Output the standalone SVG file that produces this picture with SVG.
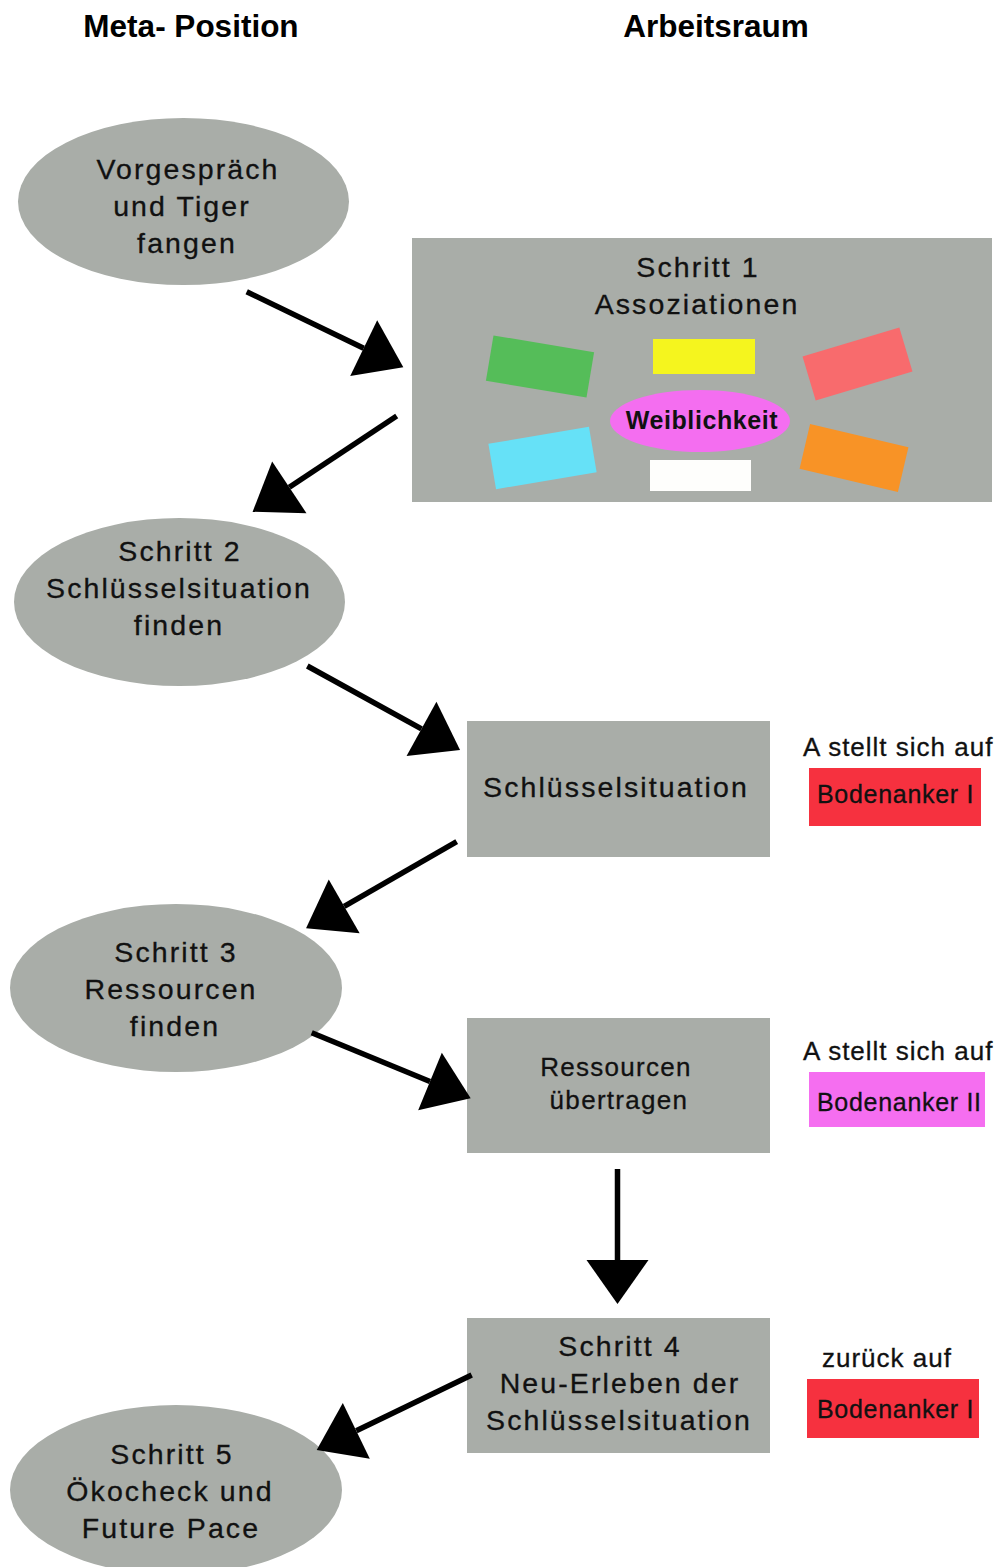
<svg xmlns="http://www.w3.org/2000/svg" width="1002" height="1567" viewBox="0 0 1002 1567">
<style>
.bg{fill:#ffffff}
.node{fill:#a9ada8}
.t{font-family:"Liberation Sans",Arial,sans-serif;font-size:28.5px;letter-spacing:2.1px;fill:#111;stroke:#111;stroke-width:0.3;text-anchor:middle}
.h{font-family:"Liberation Sans",Arial,sans-serif;font-size:31.5px;font-weight:bold;fill:#000;text-anchor:middle}
.s{font-family:"Liberation Sans",Arial,sans-serif;font-size:26px;letter-spacing:1px;fill:#111;stroke:#111;stroke-width:0.3}
.b{font-family:"Liberation Sans",Arial,sans-serif;font-size:25px;letter-spacing:0.7px;fill:#111;stroke:#111;stroke-width:0.3}
.r{font-family:"Liberation Sans",Arial,sans-serif;font-size:26px;letter-spacing:1.3px;fill:#111;stroke:#111;stroke-width:0.3;text-anchor:middle}
.w{font-family:"Liberation Sans",Arial,sans-serif;font-size:25px;font-weight:bold;letter-spacing:0.6px;fill:#111;text-anchor:middle}
.c{stroke:#000;stroke-width:5.5;fill:none}
</style>
<defs>
<marker id="ah" markerUnits="userSpaceOnUse" markerWidth="50" markerHeight="70" refX="0" refY="31" orient="auto" viewBox="0 0 50 62" overflow="visible">
<path d="M0,0 L44,31 L0,62 Z" fill="#000"/>
</marker>
</defs>
<rect class="bg" x="0" y="0" width="1002" height="1567"/>

<g id="headers">
<text class="h" x="191" y="37">Meta- Position</text>
<text class="h" x="716" y="37">Arbeitsraum</text>
</g>

<g id="vorgespraech">
<ellipse class="node" cx="183.5" cy="201.5" rx="165.5" ry="83.5"/>
<text class="t" x="188" y="179">Vorgespräch</text>
<text class="t" x="182" y="216">und Tiger</text>
<text class="t" x="187" y="253">fangen</text>
</g>

<g id="schritt1">
<rect class="node" x="412" y="238" width="580" height="264"/>
<text class="t" x="698" y="277">Schritt 1</text>
<text class="t" x="697" y="314">Assoziationen</text>
<rect x="489" y="343.5" width="102" height="46" fill="#55bd59" transform="rotate(9.5 540 366.5)"/>
<rect x="653" y="339" width="102" height="35" fill="#f5f51e"/>
<rect x="807" y="341" width="101" height="46" fill="#f86b6d" transform="rotate(-16.6 857.5 364)"/>
<rect x="491.5" y="435" width="102" height="46" fill="#66e1f7" transform="rotate(-9.6 542.5 458)"/>
<rect x="803.5" y="435" width="101" height="46" fill="#f89326" transform="rotate(13.2 854 458)"/>
<rect x="650" y="460" width="101" height="31" fill="#fefefc"/>
<ellipse cx="700" cy="421" rx="90" ry="31" fill="#f46ef0"/>
<text class="w" x="702" y="429">Weiblichkeit</text>
</g>

<g id="schritt2">
<ellipse class="node" cx="179.5" cy="602" rx="165.5" ry="84"/>
<text class="t" x="180" y="561">Schritt 2</text>
<text class="t" x="179" y="598">Schlüsselsituation</text>
<text class="t" x="179" y="635">finden</text>
</g>

<g id="schluesselsituation">
<rect class="node" x="467" y="721" width="303" height="136"/>
<text class="t" x="616" y="797">Schlüsselsituation</text>
</g>

<g id="anker1">
<text class="s" x="803" y="756">A stellt sich auf</text>
<rect x="809" y="768" width="172" height="58" fill="#f6313f"/>
<text class="b" x="817" y="803">Bodenanker I</text>
</g>

<g id="schritt3">
<ellipse class="node" cx="176" cy="988" rx="166" ry="84"/>
<text class="t" x="176" y="962">Schritt 3</text>
<text class="t" x="171" y="999">Ressourcen</text>
<text class="t" x="175" y="1036">finden</text>
</g>

<g id="ressourcen">
<rect class="node" x="467" y="1018" width="303" height="135"/>
<text class="r" x="616" y="1076">Ressourcen</text>
<text class="r" x="619" y="1109">übertragen</text>
</g>

<g id="anker2">
<text class="s" x="803" y="1060">A stellt sich auf</text>
<rect x="809" y="1072" width="176" height="55" fill="#f56ef0"/>
<text class="b" x="817" y="1111">Bodenanker II</text>
</g>

<g id="schritt4">
<rect class="node" x="467" y="1318" width="303" height="135"/>
<text class="t" x="620" y="1356">Schritt 4</text>
<text class="t" x="620" y="1393">Neu-Erleben der</text>
<text class="t" x="619" y="1430">Schlüsselsituation</text>
</g>

<g id="anker3">
<text class="s" x="822" y="1367">zurück auf</text>
<rect x="807" y="1379" width="172" height="59" fill="#f6313f"/>
<text class="b" x="817" y="1418">Bodenanker I</text>
</g>

<g id="schritt5">
<ellipse class="node" cx="176" cy="1490" rx="166" ry="85"/>
<text class="t" x="172" y="1464">Schritt 5</text>
<text class="t" x="170" y="1501">Ökocheck und</text>
<text class="t" x="171" y="1538">Future Pace</text>
</g>

<g id="connectors">
<line class="c" x1="246.7" y1="291.7" x2="363.7" y2="348.2" marker-end="url(#ah)"/>
<line class="c" x1="396.7" y1="416" x2="289.3" y2="487.3" marker-end="url(#ah)"/>
<line class="c" x1="307.3" y1="666" x2="421.5" y2="728.8" marker-end="url(#ah)"/>
<line class="c" x1="456.7" y1="841.7" x2="344.2" y2="906.4" marker-end="url(#ah)"/>
<line class="c" x1="311.7" y1="1032.7" x2="430" y2="1081.5" marker-end="url(#ah)"/>
<line class="c" x1="617.5" y1="1169" x2="617.5" y2="1260" marker-end="url(#ah)"/>
<line class="c" x1="471.7" y1="1375" x2="356.3" y2="1430.8" marker-end="url(#ah)"/>
</g>
</svg>
